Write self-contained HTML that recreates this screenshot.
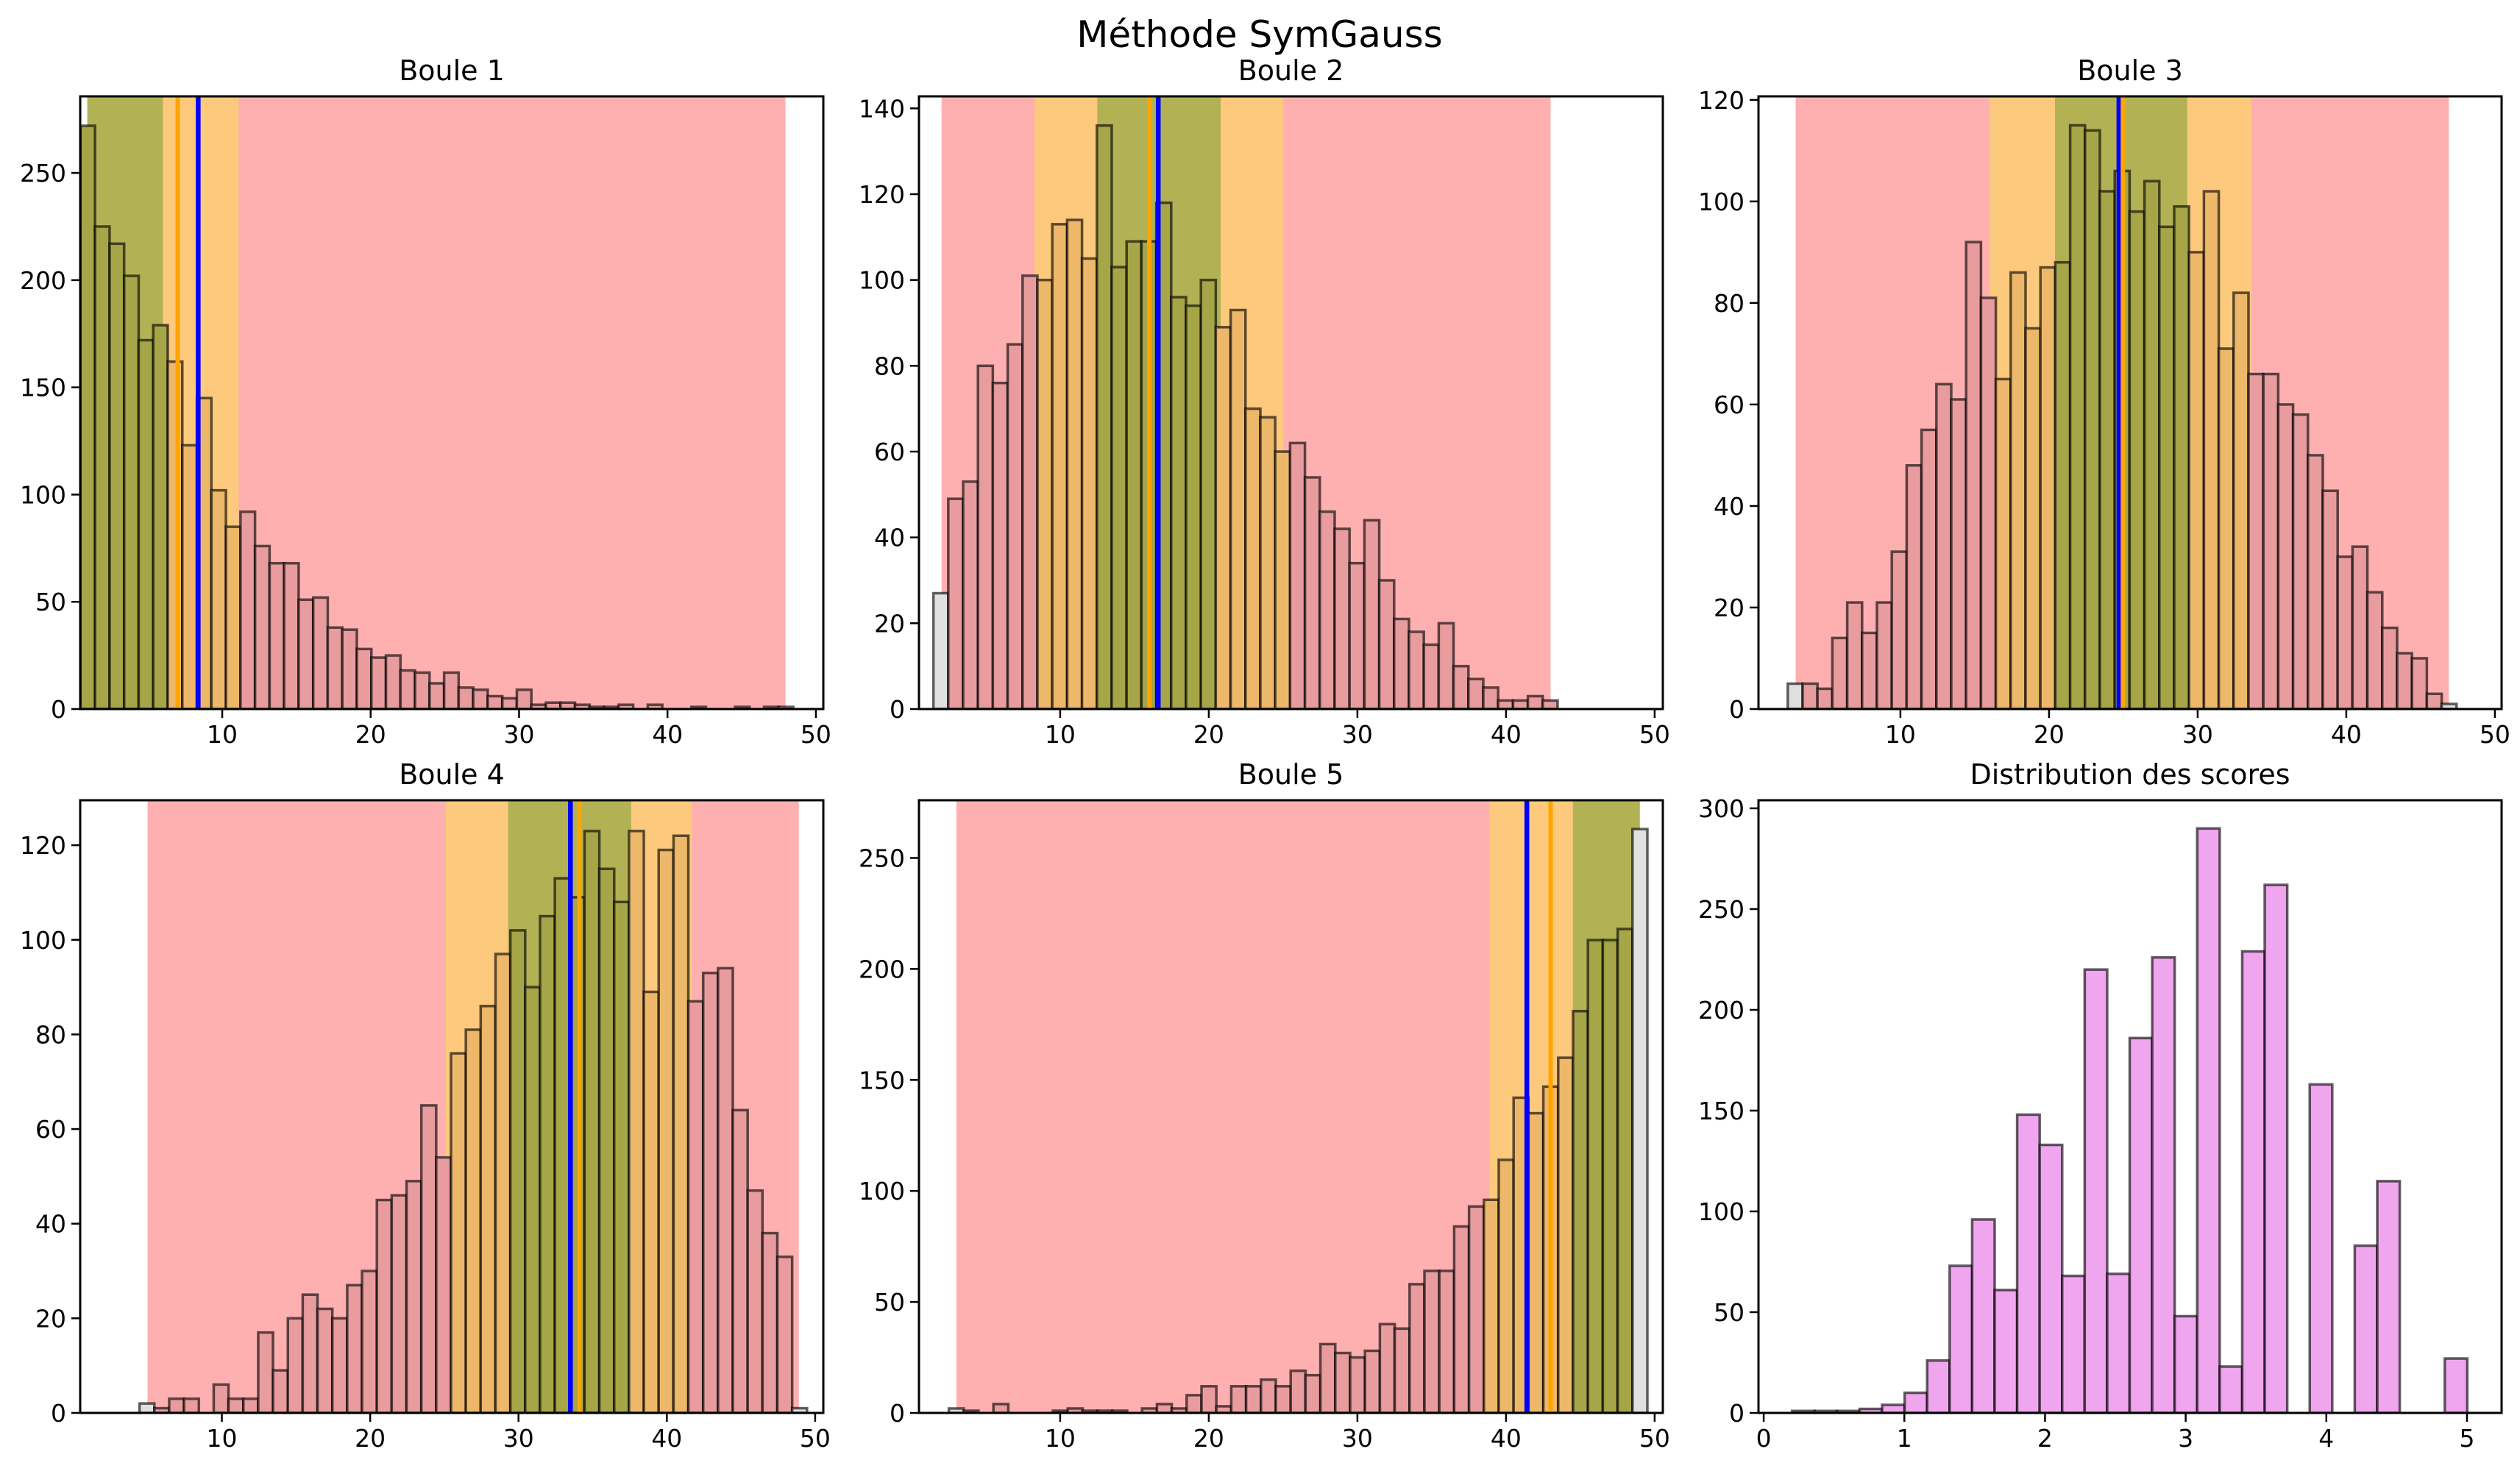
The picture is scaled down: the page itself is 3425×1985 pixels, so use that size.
<!DOCTYPE html>
<html><head><meta charset="utf-8">
<style>
html,body{margin:0;padding:0;background:#fff;}
svg{display:block;font-family:"DejaVu Sans","Liberation Sans",sans-serif;}
</style></head>
<body>
<svg id="fig" width="3425" height="1985" viewBox="0 0 3425 1985" xmlns="http://www.w3.org/2000/svg">
<rect width="3425" height="1985" fill="#ffffff"/>
<text x="1712" y="64" font-size="50" text-anchor="middle" fill="#000">Méthode SymGauss</text>
</svg>
<script>
// ---- Data ----
const b1Counts = [272,225,217,202,172,179,162,123,145,102,85,92,76,68,68,51,52,38,37,28,24,25,18,17,12,17,10,9,6,5,9,2,3,3,2,1,1,2,0,2,0,0,1,0,0,1,0,1,1];
const b1BinStart = 0.45, b1BinWidth = 0.98;
const b1Red = [0.91,47.95], b1Orange = [0.91,11.1], b1Green = [0.91,6.0];
const b1Mean = 8.38, b1Median = 7.0;

const b2Counts = [27,49,53,80,76,85,101,100,113,114,105,136,103,109,109,118,96,94,100,89,93,70,68,60,62,54,46,42,34,44,30,21,18,15,20,10,7,5,2,2,3,2];
const b2BinStart = 1.47, b2BinWidth = 1.0;
const b2Red = [2.02,43.0], b2Orange = [8.27,25.0], b2Green = [12.5,20.8];
const b2Mean = 16.6, b2Median = 16.0;

const b3Counts = [5,5,4,14,21,15,21,31,48,55,64,61,92,81,65,86,75,87,88,115,114,102,106,98,104,95,99,90,102,71,82,66,66,60,58,50,43,30,32,23,16,11,10,3,1];
const b3BinStart = 2.42, b3BinWidth = 1.0;
const b3Red = [2.95,46.9], b3Orange = [16.0,33.6], b3Green = [20.4,29.3];
const b3Mean = 24.7, b3Median = 24.97;

const b4Counts = [2,1,3,3,0,6,3,3,17,9,20,25,22,20,27,30,45,46,49,65,54,76,81,86,97,102,90,105,113,109,123,115,108,123,89,119,122,87,93,94,64,47,38,33,1];
const b4BinStart = 4.45, b4BinWidth = 1.0;
const b4Red = [4.99,48.9], b4Orange = [25.1,41.7], b4Green = [29.3,37.6];
const b4Mean = 33.5, b4Median = 34.1;

const b5Counts = [2,1,0,4,0,0,0,1,2,1,1,1,0,2,4,2,8,12,3,12,12,15,12,19,17,31,27,25,28,40,38,58,64,64,84,93,96,114,142,135,147,160,181,213,213,218,263];
const b5BinStart = 2.51, b5BinWidth = 1.0;
const b5Red = [3.02,49.0], b5Orange = [38.9,49.0], b5Green = [44.5,49.0];
const b5Mean = 41.4, b5Median = 43.0;

const scoreCounts = [1,1,1,2,4,10,26,73,96,61,148,133,68,220,69,186,226,48,290,23,229,262,0,163,0,83,115,0,0,27];
const scoreBinStart = 0.202, scoreBinWidth = 0.16;

const ballXTicks = [10,20,30,40,50];
const scoreXTicks = [0,1,2,3,4,5];
const yTicks1 = [0,50,100,150,200,250];
const yTicks2 = [0,20,40,60,80,100,120,140];
const yTicks3 = [0,20,40,60,80,100,120];
const yTicks4 = [0,20,40,60,80,100,120];
const yTicks5 = [0,50,100,150,200,250];
const yTicks6 = [0,50,100,150,200,250,300];

// ---- Layout ----
const NS = "http://www.w3.org/2000/svg";
const svg = document.getElementById('fig');
function el(tag, attrs, parent){
  const e = document.createElementNS(NS, tag);
  for (const k in attrs) e.setAttribute(k, attrs[k]);
  (parent||svg).appendChild(e);
  return e;
}
const C = {red:'#feb0b1', orange:'#fdc97c', green:'#b2b255',
  barRed:'#e89c9e', barOrange:'#edb86a', barGreen:'#a6a548', barGrey:'#e0e0e0', barViolet:'#f0a6ef'};

function panel(cfg){
  const g = el('g', {});
  
  
  const X = v => cfg.l + (v - cfg.xmin) / (cfg.xmax - cfg.xmin) * (cfg.r - cfg.l);
  const Y = v => cfg.b - v / cfg.ymax * (cfg.b - cfg.t);
  const clipId = 'clip-' + cfg.name;
  const cp = el('clipPath', {id: clipId}, g);
  el('rect', {x: cfg.l, y: cfg.t, width: cfg.r - cfg.l, height: cfg.b - cfg.t}, cp);
  const inner = el('g', {'clip-path': 'url(#' + clipId + ')'}, g);
  const spans = [['red', cfg.red], ['orange', cfg.orange], ['green', cfg.green]];
  spans.forEach(([k, s]) => {
    if (!s) return;
    const r = el('rect', {x: X(s[0]), y: cfg.t, width: X(s[1]) - X(s[0]), height: cfg.b - cfg.t, fill: C[k]}, inner);
    
    
  });
  cfg.counts.forEach((c, i) => {
    const x0 = cfg.start + i * cfg.width, x1 = x0 + cfg.width, mid = (x0 + x1) / 2;
    let fill = C.barGrey;
    if (cfg.violet) fill = C.barViolet;
    else if (cfg.green && mid >= cfg.green[0] && mid <= cfg.green[1]) fill = C.barGreen;
    else if (cfg.orange && mid >= cfg.orange[0] && mid <= cfg.orange[1]) fill = C.barOrange;
    else if (cfg.red && mid >= cfg.red[0] && mid <= cfg.red[1]) fill = C.barRed;
    const r = el('rect', {x: X(x0), y: Y(c), width: X(x1) - X(x0), height: Y(0) - Y(c),
      fill: fill, stroke: 'rgba(0,0,0,0.62)', 'stroke-width': 3.5}, inner);
    
    
  });
  if (cfg.mean !== undefined) {
    const lb = el('line', {x1: X(cfg.mean), x2: X(cfg.mean), y1: cfg.t, y2: cfg.b, stroke: '#0000ff', 'stroke-width': 6.5}, inner);
    
    
    const lo = el('line', {x1: X(cfg.median), x2: X(cfg.median), y1: cfg.t, y2: cfg.b, stroke: '#ffa500', 'stroke-width': 6}, inner);
    
    
  }
  const fr = el('rect', {x: cfg.l, y: cfg.t, width: cfg.r - cfg.l, height: cfg.b - cfg.t, fill: 'none', stroke: '#000', 'stroke-width': 3}, g);
  
  
  cfg.xt.forEach(v => {
    const x = X(v);
    el('line', {x1: x, x2: x, y1: cfg.b, y2: cfg.b + 12, stroke: '#000', 'stroke-width': 2.5}, g);
    const t = el('text', {x: x, y: cfg.b + 46, 'font-size': 33, 'text-anchor': 'middle', fill: '#000'}, g);
    t.textContent = String(v);
    
    
  });
  cfg.yt.forEach(v => {
    const y = Y(v);
    el('line', {x1: cfg.l - 12, x2: cfg.l, y1: y, y2: y, stroke: '#000', 'stroke-width': 2.5}, g);
    const t = el('text', {x: cfg.l - 19, y: y + 12, 'font-size': 33, 'text-anchor': 'end', fill: '#000'}, g);
    t.textContent = String(v);
    
    
  });
  const tt = el('text', {x: (cfg.l + cfg.r) / 2, y: cfg.t - 22, 'font-size': 38, 'text-anchor': 'middle', fill: '#000'}, g);
  tt.textContent = cfg.title;
  
  
}

panel({name:'boule-1-panel', title:'Boule 1', l:109, r:1119, t:131, b:964, xmin:0.43, xmax:50.5, ymax:285.7,
  counts:b1Counts, start:b1BinStart, width:b1BinWidth, red:b1Red, orange:b1Orange, green:b1Green, mean:b1Mean, median:b1Median, xt:ballXTicks, yt:yTicks1});
panel({name:'boule-2-panel', title:'Boule 2', l:1249, r:2260, t:131, b:964, xmin:0.5, xmax:50.55, ymax:142.8,
  counts:b2Counts, start:b2BinStart, width:b2BinWidth, red:b2Red, orange:b2Orange, green:b2Green, mean:b2Mean, median:b2Median, xt:ballXTicks, yt:yTicks2});
panel({name:'boule-3-panel', title:'Boule 3', l:2390, r:3400, t:131, b:964, xmin:0.45, xmax:50.45, ymax:120.7,
  counts:b3Counts, start:b3BinStart, width:b3BinWidth, red:b3Red, orange:b3Orange, green:b3Green, mean:b3Mean, median:b3Median, xt:ballXTicks, yt:yTicks3});
panel({name:'boule-4-panel', title:'Boule 4', l:109, r:1119, t:1088, b:1921, xmin:0.45, xmax:50.55, ymax:129.5,
  counts:b4Counts, start:b4BinStart, width:b4BinWidth, red:b4Red, orange:b4Orange, green:b4Green, mean:b4Mean, median:b4Median, xt:ballXTicks, yt:yTicks4});
panel({name:'boule-5-panel', title:'Boule 5', l:1249, r:2260, t:1088, b:1921, xmin:0.5, xmax:50.55, ymax:276,
  counts:b5Counts, start:b5BinStart, width:b5BinWidth, red:b5Red, orange:b5Orange, green:b5Green, mean:b5Mean, median:b5Median, xt:ballXTicks, yt:yTicks5});
panel({name:'score-distribution-panel', title:'Distribution des scores', l:2390, r:3400, t:1088, b:1921, xmin:-0.037, xmax:5.246, ymax:304,
  counts:scoreCounts, start:scoreBinStart, width:scoreBinWidth, violet:true, xt:scoreXTicks, yt:yTicks6});
</script>
</body></html>
